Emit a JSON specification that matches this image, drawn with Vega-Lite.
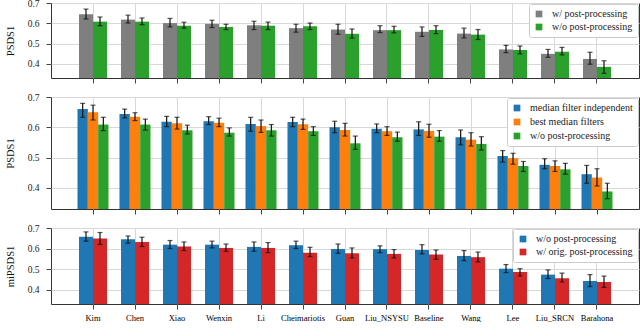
{
  "$schema": "https://vega.github.io/schema/vega-lite/v6.json",
  "padding": {"left": 4, "top": -3, "right": 1, "bottom": 0},
  "spacing": 7,
  "datasets": {
    "p1": [
      {"model": "Kim", "method": "w/ post-processing", "v": 0.644, "lo": 0.621, "hi": 0.670},
      {"model": "Kim", "method": "w/o post-processing", "v": 0.608, "lo": 0.588, "hi": 0.631},
      {"model": "Chen", "method": "w/ post-processing", "v": 0.618, "lo": 0.601, "hi": 0.640},
      {"model": "Chen", "method": "w/o post-processing", "v": 0.608, "lo": 0.593, "hi": 0.626},
      {"model": "Xiao", "method": "w/ post-processing", "v": 0.601, "lo": 0.582, "hi": 0.624},
      {"model": "Xiao", "method": "w/o post-processing", "v": 0.588, "lo": 0.576, "hi": 0.605},
      {"model": "Wenxin", "method": "w/ post-processing", "v": 0.597, "lo": 0.579, "hi": 0.615},
      {"model": "Wenxin", "method": "w/o post-processing", "v": 0.582, "lo": 0.569, "hi": 0.595},
      {"model": "Li", "method": "w/ post-processing", "v": 0.590, "lo": 0.569, "hi": 0.610},
      {"model": "Li", "method": "w/o post-processing", "v": 0.588, "lo": 0.569, "hi": 0.606},
      {"model": "Cheimariotis", "method": "w/ post-processing", "v": 0.576, "lo": 0.556, "hi": 0.595},
      {"model": "Cheimariotis", "method": "w/o post-processing", "v": 0.585, "lo": 0.569, "hi": 0.601},
      {"model": "Guan", "method": "w/ post-processing", "v": 0.569, "lo": 0.546, "hi": 0.595},
      {"model": "Guan", "method": "w/o post-processing", "v": 0.548, "lo": 0.527, "hi": 0.572},
      {"model": "Liu_NSYSU", "method": "w/ post-processing", "v": 0.566, "lo": 0.554, "hi": 0.588},
      {"model": "Liu_NSYSU", "method": "w/o post-processing", "v": 0.566, "lo": 0.553, "hi": 0.585},
      {"model": "Baseline", "method": "w/ post-processing", "v": 0.558, "lo": 0.535, "hi": 0.582},
      {"model": "Baseline", "method": "w/o post-processing", "v": 0.567, "lo": 0.549, "hi": 0.588},
      {"model": "Wang", "method": "w/ post-processing", "v": 0.549, "lo": 0.528, "hi": 0.576},
      {"model": "Wang", "method": "w/o post-processing", "v": 0.544, "lo": 0.520, "hi": 0.569},
      {"model": "Lee", "method": "w/ post-processing", "v": 0.471, "lo": 0.455, "hi": 0.491},
      {"model": "Lee", "method": "w/o post-processing", "v": 0.468, "lo": 0.449, "hi": 0.488},
      {"model": "Liu_SRCN", "method": "w/ post-processing", "v": 0.449, "lo": 0.432, "hi": 0.471},
      {"model": "Liu_SRCN", "method": "w/o post-processing", "v": 0.460, "lo": 0.444, "hi": 0.481},
      {"model": "Barahona", "method": "w/ post-processing", "v": 0.424, "lo": 0.398, "hi": 0.457},
      {"model": "Barahona", "method": "w/o post-processing", "v": 0.385, "lo": 0.353, "hi": 0.415}
    ],
    "p2": [
      {"model": "Kim", "method": "median filter independent", "v": 0.660, "lo": 0.633, "hi": 0.679},
      {"model": "Kim", "method": "best median filters", "v": 0.650, "lo": 0.624, "hi": 0.673},
      {"model": "Kim", "method": "w/o post-processing", "v": 0.609, "lo": 0.589, "hi": 0.633},
      {"model": "Chen", "method": "median filter independent", "v": 0.644, "lo": 0.631, "hi": 0.660},
      {"model": "Chen", "method": "best median filters", "v": 0.635, "lo": 0.622, "hi": 0.648},
      {"model": "Chen", "method": "w/o post-processing", "v": 0.609, "lo": 0.591, "hi": 0.627},
      {"model": "Xiao", "method": "median filter independent", "v": 0.618, "lo": 0.602, "hi": 0.636},
      {"model": "Xiao", "method": "best median filters", "v": 0.613, "lo": 0.594, "hi": 0.633},
      {"model": "Xiao", "method": "w/o post-processing", "v": 0.590, "lo": 0.578, "hi": 0.607},
      {"model": "Wenxin", "method": "median filter independent", "v": 0.620, "lo": 0.609, "hi": 0.635},
      {"model": "Wenxin", "method": "best median filters", "v": 0.615, "lo": 0.602, "hi": 0.630},
      {"model": "Wenxin", "method": "w/o post-processing", "v": 0.582, "lo": 0.571, "hi": 0.598},
      {"model": "Li", "method": "median filter independent", "v": 0.611, "lo": 0.587, "hi": 0.633},
      {"model": "Li", "method": "best median filters", "v": 0.604, "lo": 0.583, "hi": 0.624},
      {"model": "Li", "method": "w/o post-processing", "v": 0.590, "lo": 0.571, "hi": 0.609},
      {"model": "Cheimariotis", "method": "median filter independent", "v": 0.617, "lo": 0.602, "hi": 0.633},
      {"model": "Cheimariotis", "method": "best median filters", "v": 0.610, "lo": 0.593, "hi": 0.627},
      {"model": "Cheimariotis", "method": "w/o post-processing", "v": 0.587, "lo": 0.573, "hi": 0.602},
      {"model": "Guan", "method": "median filter independent", "v": 0.600, "lo": 0.582, "hi": 0.620},
      {"model": "Guan", "method": "best median filters", "v": 0.591, "lo": 0.571, "hi": 0.613},
      {"model": "Guan", "method": "w/o post-processing", "v": 0.547, "lo": 0.527, "hi": 0.571},
      {"model": "Liu_NSYSU", "method": "median filter independent", "v": 0.595, "lo": 0.582, "hi": 0.611},
      {"model": "Liu_NSYSU", "method": "best median filters", "v": 0.587, "lo": 0.573, "hi": 0.602},
      {"model": "Liu_NSYSU", "method": "w/o post-processing", "v": 0.567, "lo": 0.554, "hi": 0.584},
      {"model": "Baseline", "method": "median filter independent", "v": 0.593, "lo": 0.573, "hi": 0.618},
      {"model": "Baseline", "method": "best median filters", "v": 0.588, "lo": 0.567, "hi": 0.610},
      {"model": "Baseline", "method": "w/o post-processing", "v": 0.569, "lo": 0.554, "hi": 0.589},
      {"model": "Wang", "method": "median filter independent", "v": 0.567, "lo": 0.542, "hi": 0.591},
      {"model": "Wang", "method": "best median filters", "v": 0.559, "lo": 0.538, "hi": 0.582},
      {"model": "Wang", "method": "w/o post-processing", "v": 0.545, "lo": 0.525, "hi": 0.569},
      {"model": "Lee", "method": "median filter independent", "v": 0.505, "lo": 0.485, "hi": 0.523},
      {"model": "Lee", "method": "best median filters", "v": 0.498, "lo": 0.478, "hi": 0.514},
      {"model": "Lee", "method": "w/o post-processing", "v": 0.472, "lo": 0.454, "hi": 0.487},
      {"model": "Liu_SRCN", "method": "median filter independent", "v": 0.476, "lo": 0.463, "hi": 0.496},
      {"model": "Liu_SRCN", "method": "best median filters", "v": 0.472, "lo": 0.454, "hi": 0.489},
      {"model": "Liu_SRCN", "method": "w/o post-processing", "v": 0.461, "lo": 0.445, "hi": 0.481},
      {"model": "Barahona", "method": "median filter independent", "v": 0.445, "lo": 0.415, "hi": 0.474},
      {"model": "Barahona", "method": "best median filters", "v": 0.434, "lo": 0.406, "hi": 0.463},
      {"model": "Barahona", "method": "w/o post-processing", "v": 0.388, "lo": 0.364, "hi": 0.415}
    ],
    "p3": [
      {"model": "Kim", "method": "w/o post-processing", "v": 0.658, "lo": 0.636, "hi": 0.681},
      {"model": "Kim", "method": "w/ orig. post-processing", "v": 0.649, "lo": 0.620, "hi": 0.678},
      {"model": "Chen", "method": "w/o post-processing", "v": 0.645, "lo": 0.626, "hi": 0.661},
      {"model": "Chen", "method": "w/ orig. post-processing", "v": 0.632, "lo": 0.610, "hi": 0.655},
      {"model": "Xiao", "method": "w/o post-processing", "v": 0.619, "lo": 0.600, "hi": 0.639},
      {"model": "Xiao", "method": "w/ orig. post-processing", "v": 0.610, "lo": 0.590, "hi": 0.632},
      {"model": "Wenxin", "method": "w/o post-processing", "v": 0.619, "lo": 0.603, "hi": 0.636},
      {"model": "Wenxin", "method": "w/ orig. post-processing", "v": 0.603, "lo": 0.587, "hi": 0.622},
      {"model": "Li", "method": "w/o post-processing", "v": 0.608, "lo": 0.587, "hi": 0.632},
      {"model": "Li", "method": "w/ orig. post-processing", "v": 0.603, "lo": 0.580, "hi": 0.629},
      {"model": "Cheimariotis", "method": "w/o post-processing", "v": 0.616, "lo": 0.600, "hi": 0.636},
      {"model": "Cheimariotis", "method": "w/ orig. post-processing", "v": 0.580, "lo": 0.561, "hi": 0.606},
      {"model": "Guan", "method": "w/o post-processing", "v": 0.598, "lo": 0.577, "hi": 0.622},
      {"model": "Guan", "method": "w/ orig. post-processing", "v": 0.577, "lo": 0.554, "hi": 0.603},
      {"model": "Liu_NSYSU", "method": "w/o post-processing", "v": 0.597, "lo": 0.580, "hi": 0.613},
      {"model": "Liu_NSYSU", "method": "w/ orig. post-processing", "v": 0.574, "lo": 0.554, "hi": 0.595},
      {"model": "Baseline", "method": "w/o post-processing", "v": 0.593, "lo": 0.574, "hi": 0.619},
      {"model": "Baseline", "method": "w/ orig. post-processing", "v": 0.571, "lo": 0.548, "hi": 0.593},
      {"model": "Wang", "method": "w/o post-processing", "v": 0.564, "lo": 0.541, "hi": 0.590},
      {"model": "Wang", "method": "w/ orig. post-processing", "v": 0.558, "lo": 0.535, "hi": 0.583},
      {"model": "Lee", "method": "w/o post-processing", "v": 0.502, "lo": 0.483, "hi": 0.522},
      {"model": "Lee", "method": "w/ orig. post-processing", "v": 0.486, "lo": 0.466, "hi": 0.502},
      {"model": "Liu_SRCN", "method": "w/o post-processing", "v": 0.473, "lo": 0.454, "hi": 0.496},
      {"model": "Liu_SRCN", "method": "w/ orig. post-processing", "v": 0.455, "lo": 0.437, "hi": 0.480},
      {"model": "Barahona", "method": "w/o post-processing", "v": 0.442, "lo": 0.415, "hi": 0.473},
      {"model": "Barahona", "method": "w/ orig. post-processing", "v": 0.437, "lo": 0.411, "hi": 0.466}
    ]
  },
  "resolve": {"scale": {"x": "independent", "y": "independent", "color": "independent", "xOffset": "independent"}, "legend": {"color": "independent"}},
  "vconcat": [
    {
      "width": 588, "height": 75,
      "data": {"name": "p1"},
      "encoding": {
        "x": {"field": "model", "type": "nominal", "sort": ["Kim","Chen","Xiao","Wenxin","Li","Cheimariotis","Guan","Liu_NSYSU","Baseline","Wang","Lee","Liu_SRCN","Barahona"],
          "scale": {"paddingInner": 0.3333, "paddingOuter": 0.6667},
          "axis": {"title": null, "labels": false, "bandPosition": 0.5}},
        "xOffset": {"field": "method", "type": "nominal", "sort": ["w/ post-processing", "w/o post-processing"], "scale": {"paddingInner": 0, "paddingOuter": 0}}
      },
      "layer": [
        {"mark": {"type": "bar", "clip": true},
         "encoding": {
           "y": {"field": "v", "type": "quantitative", "scale": {"domain": [0.33, 0.7], "nice": false, "zero": false, "clamp": true}, "axis": {"title": "PSDS1", "values": [0.4, 0.5, 0.6, 0.7], "tickCount": 4, "format": ".1f", "labelOverlap": false}},
           "color": {"field": "method", "type": "nominal", "sort": ["w/ post-processing", "w/o post-processing"], "scale": {"range": ["#7f7f7f", "#2ca02c"]},
             "legend": {"title": null, "orient": "top-right", "offset": 1, "rowPadding": 3}}
         }},
        {"mark": {"type": "rule", "color": "#111", "strokeWidth": 1.2},
         "encoding": {"y": {"field": "lo", "type": "quantitative", "axis": {"title": "PSDS1", "values": [0.4, 0.5, 0.6, 0.7], "tickCount": 4, "format": ".1f", "labelOverlap": false}}, "y2": {"field": "hi"}}},
        {"mark": {"type": "tick", "color": "#111", "size": 5, "thickness": 1.2},
         "encoding": {"y": {"field": "lo", "type": "quantitative", "axis": {"title": "PSDS1", "values": [0.4, 0.5, 0.6, 0.7], "tickCount": 4, "format": ".1f", "labelOverlap": false}}}},
        {"mark": {"type": "tick", "color": "#111", "size": 5, "thickness": 1.2},
         "encoding": {"y": {"field": "hi", "type": "quantitative", "axis": {"title": "PSDS1", "values": [0.4, 0.5, 0.6, 0.7], "tickCount": 4, "format": ".1f", "labelOverlap": false}}}}
      ]
    },
    {
      "width": 588, "height": 112,
      "data": {"name": "p2"},
      "encoding": {
        "x": {"field": "model", "type": "nominal", "sort": ["Kim","Chen","Xiao","Wenxin","Li","Cheimariotis","Guan","Liu_NSYSU","Baseline","Wang","Lee","Liu_SRCN","Barahona"],
          "scale": {"paddingInner": 0.262, "paddingOuter": 0.631},
          "axis": {"title": null, "labels": false, "bandPosition": 0.5}},
        "xOffset": {"field": "method", "type": "nominal", "sort": ["median filter independent", "best median filters", "w/o post-processing"], "scale": {"paddingInner": 0, "paddingOuter": 0}}
      },
      "layer": [
        {"mark": {"type": "bar", "clip": true},
         "encoding": {
           "y": {"field": "v", "type": "quantitative", "scale": {"domain": [0.33, 0.7], "nice": false, "zero": false, "clamp": true}, "axis": {"title": "PSDS1", "values": [0.4, 0.5, 0.6, 0.7], "tickCount": 4, "format": ".1f", "labelOverlap": false}},
           "color": {"field": "method", "type": "nominal", "sort": ["median filter independent", "best median filters", "w/o post-processing"], "scale": {"range": ["#1f77b4", "#ff7f0e", "#2ca02c"]},
             "legend": {"title": null, "orient": "top-right", "offset": 1, "rowPadding": 4}}
         }},
        {"mark": {"type": "rule", "color": "#111", "strokeWidth": 1.2},
         "encoding": {"y": {"field": "lo", "type": "quantitative", "axis": {"title": "PSDS1", "values": [0.4, 0.5, 0.6, 0.7], "tickCount": 4, "format": ".1f", "labelOverlap": false}}, "y2": {"field": "hi"}}},
        {"mark": {"type": "tick", "color": "#111", "size": 5, "thickness": 1.2},
         "encoding": {"y": {"field": "lo", "type": "quantitative", "axis": {"title": "PSDS1", "values": [0.4, 0.5, 0.6, 0.7], "tickCount": 4, "format": ".1f", "labelOverlap": false}}}},
        {"mark": {"type": "tick", "color": "#111", "size": 5, "thickness": 1.2},
         "encoding": {"y": {"field": "hi", "type": "quantitative", "axis": {"title": "PSDS1", "values": [0.4, 0.5, 0.6, 0.7], "tickCount": 4, "format": ".1f", "labelOverlap": false}}}}
      ]
    },
    {
      "width": 588, "height": 76,
      "data": {"name": "p3"},
      "encoding": {
        "x": {"field": "model", "type": "nominal", "sort": ["Kim","Chen","Xiao","Wenxin","Li","Cheimariotis","Guan","Liu_NSYSU","Baseline","Wang","Lee","Liu_SRCN","Barahona"],
          "scale": {"paddingInner": 0.3333, "paddingOuter": 0.6667},
          "axis": {"title": null, "labelAngle": 0, "labelFontSize": 8.5, "labelPadding": 4, "labelColor": "#000", "bandPosition": 0.5}},
        "xOffset": {"field": "method", "type": "nominal", "sort": ["w/o post-processing", "w/ orig. post-processing"], "scale": {"paddingInner": 0, "paddingOuter": 0}}
      },
      "layer": [
        {"mark": {"type": "bar", "clip": true},
         "encoding": {
           "y": {"field": "v", "type": "quantitative", "scale": {"domain": [0.33, 0.7], "nice": false, "zero": false, "clamp": true}, "axis": {"title": "miPSDS1", "values": [0.4, 0.5, 0.6, 0.7], "tickCount": 4, "format": ".1f", "labelOverlap": false}},
           "color": {"field": "method", "type": "nominal", "sort": ["w/o post-processing", "w/ orig. post-processing"], "scale": {"range": ["#1f77b4", "#d62728"]},
             "legend": {"title": null, "orient": "top-right", "offset": 1, "rowPadding": 3}}
         }},
        {"mark": {"type": "rule", "color": "#111", "strokeWidth": 1.2},
         "encoding": {"y": {"field": "lo", "type": "quantitative", "axis": {"title": "miPSDS1", "values": [0.4, 0.5, 0.6, 0.7], "tickCount": 4, "format": ".1f", "labelOverlap": false}}, "y2": {"field": "hi"}}},
        {"mark": {"type": "tick", "color": "#111", "size": 5, "thickness": 1.2},
         "encoding": {"y": {"field": "lo", "type": "quantitative", "axis": {"title": "miPSDS1", "values": [0.4, 0.5, 0.6, 0.7], "tickCount": 4, "format": ".1f", "labelOverlap": false}}}},
        {"mark": {"type": "tick", "color": "#111", "size": 5, "thickness": 1.2},
         "encoding": {"y": {"field": "hi", "type": "quantitative", "axis": {"title": "miPSDS1", "values": [0.4, 0.5, 0.6, 0.7], "tickCount": 4, "format": ".1f", "labelOverlap": false}}}}
      ]
    }
  ],
  "config": {
    "font": "Liberation Serif",
    "view": {"stroke": "#333", "strokeWidth": 1},
    "axis": {"domain": false, "grid": true, "gridColor": "#d8d8d8", "gridWidth": 1, "tickColor": "#444", "tickSize": 5,
      "labelFont": "Liberation Serif", "labelFontSize": 9.5, "labelColor": "#222", "labelPadding": 7,
      "titleFont": "Liberation Serif", "titleFontSize": 10.5, "titleFontWeight": "normal", "titleColor": "#111", "titlePadding": 12},
    "legend": {"labelFont": "Liberation Serif", "labelFontSize": 10, "labelColor": "#222", "symbolType": "square", "symbolSize": 45, "symbolStrokeWidth": 0,
      "fillColor": "white", "strokeColor": "#cccccc", "padding": 5, "cornerRadius": 2, "labelOffset": 8, "labelLimit": 300}
  }
}
